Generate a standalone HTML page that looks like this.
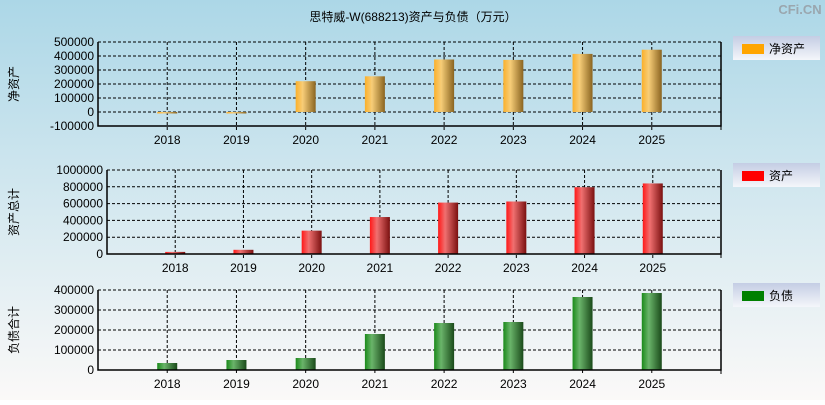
<!DOCTYPE html>
<html><head><meta charset="utf-8"><style>
body{margin:0;width:825px;height:400px;overflow:hidden;font-family:"Liberation Sans","Noto Sans CJK SC",sans-serif}
svg text{font-family:"Liberation Sans","Noto Sans CJK SC",sans-serif}
</style></head><body>
<svg id="c" width="825" height="400" xmlns="http://www.w3.org/2000/svg">
<defs>
<linearGradient id="bg" x1="0" y1="0" x2="0" y2="1"><stop offset="0" stop-color="#acd7e7"/><stop offset="1" stop-color="#fbf9f8"/></linearGradient>
<linearGradient id="gO" x1="0" x2="1"><stop offset="0" stop-color="#fbb02a"/><stop offset="0.35" stop-color="#f7cd78"/><stop offset="1" stop-color="#8a6420"/></linearGradient>
<linearGradient id="gR" x1="0" x2="1"><stop offset="0" stop-color="#ff1818"/><stop offset="0.35" stop-color="#f07070"/><stop offset="1" stop-color="#7a1010"/></linearGradient>
<linearGradient id="gG" x1="0" x2="1"><stop offset="0" stop-color="#1a8a1a"/><stop offset="0.35" stop-color="#6ab46a"/><stop offset="1" stop-color="#1a4a1a"/></linearGradient>
<linearGradient id="lg" x1="0" y1="0" x2="0" y2="1"><stop offset="0" stop-color="#c4cde4"/><stop offset="1" stop-color="#f4f6fa"/></linearGradient>
</defs>
<rect width="825" height="400" fill="url(#bg)"/>
<text x="413" y="21" font-size="12" text-anchor="middle">思特威-W(688213)资产与负债（万元）</text>
<text x="800" y="14" font-size="13" font-weight="bold" fill="#9aa6ae" text-anchor="middle">CFi.CN</text>
<g id="p"></g>
</svg>
<script>
const categories=["2018","2019","2020","2021","2022","2023","2024","2025"];
const netAssets=[-5000,-5000,220000,255000,375000,372000,415000,445000];
const totalAssets=[25000,50000,278000,440000,612000,625000,795000,840000];
const liabilities=[35000,50000,60000,180000,235000,240000,365000,385000];
const ticks1=[-100000,0,100000,200000,300000,400000,500000];
const ticks2=[0,200000,400000,600000,800000,1000000];
const ticks3=[0,100000,200000,300000,400000];
const NS="http://www.w3.org/2000/svg";
const g=document.getElementById('p');
function el(t,a,txt){const e=document.createElementNS(NS,t);for(const k in a)e.setAttribute(k,a[k]);if(txt!==undefined)e.textContent=txt;g.appendChild(e);return e;}
function panel(cfg){
 const {x0,x1,y0,y1,min,max,ticks,vals,fill,title,legend,legColor,ly,key}=cfg;
 const ys=v=>y1-(v-min)/(max-min)*(y1-y0);
 const step=(x1-x0)/(categories.length+1);
 const xs=i=>x0+step*(i+1);
 ticks.forEach(t=>{
  const y=ys(t);
  const l=el('line',{x1:x0,x2:x1,y1:y,y2:y,stroke:'#000','stroke-dasharray':'3,2','stroke-width':1});
  
  
  const tx=el('text',{x:x0-4,y:y+4,'font-size':12,'text-anchor':'end'},String(t));
  
  
 });
 categories.forEach((c,i)=>{
  const x=xs(i);
  const l=el('line',{x1:x,x2:x,y1:y0,y2:y1+4,stroke:'#000','stroke-dasharray':'3,2'});
  
  
  const tx=el('text',{x:x,y:y1+18,'font-size':12,'text-anchor':'middle'},c);
  
  
  const v=vals[i],z=ys(Math.max(min,0)),yv=ys(v);
  const r=el('rect',{x:x-10,y:Math.min(z,yv),width:20,height:Math.max(1.5,Math.abs(z-yv)),fill:fill});
  
  
 });
 const ax=el('path',{d:`M${x0},${y0}V${y1}H${x1}V${y0}`,fill:'none',stroke:'#000','stroke-width':1.5});
 
 
 const rb=el('line',{x1:x1,x2:x1,y1:y0,y2:y1+4,stroke:'#000'});
 
 
 const ty=(y0+y1)/2;
 const t=el('text',{x:0,y:0,'font-size':12,'text-anchor':'middle',transform:`translate(18,${ty}) rotate(-90)`},title);
 
 
 const lb=el('rect',{x:733,y:ly,width:87,height:24,fill:'url(#lg)'});
 
 
 const sw=el('rect',{x:742,y:ly+8,width:22,height:10,fill:legColor});
 
 
 const lt=el('text',{x:769,y:ly+17,'font-size':12},legend);
 
 
}
panel({key:'net-assets',x0:98,x1:721,y0:42,y1:126,min:-100000,max:500000,ticks:ticks1,vals:netAssets,fill:'url(#gO)',title:'净资产',legend:'净资产',legColor:'#ffa500',ly:36});
panel({key:'total-assets',x0:107,x1:721,y0:170,y1:254,min:0,max:1000000,ticks:ticks2,vals:totalAssets,fill:'url(#gR)',title:'资产总计',legend:'资产',legColor:'#ff0000',ly:163});
panel({key:'liabilities',x0:98,x1:721,y0:290,y1:370,min:0,max:400000,ticks:ticks3,vals:liabilities,fill:'url(#gG)',title:'负债合计',legend:'负债',legColor:'#008000',ly:283});
</script>
</body></html>
